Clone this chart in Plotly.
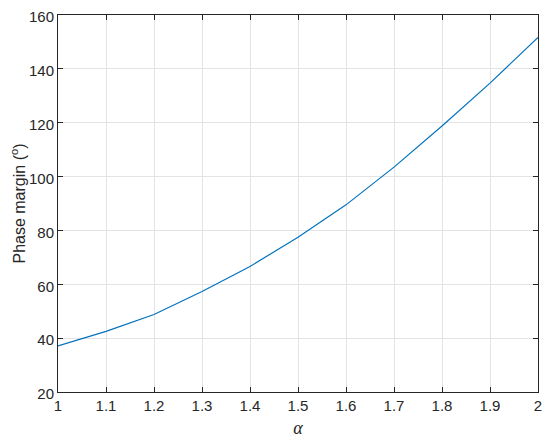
import plotly.graph_objects as go

# alpha values and the phase margin
alpha = [1.0, 1.1, 1.2, 1.3, 1.4, 1.5, 1.6, 1.7, 1.8, 1.9, 2.0]
phase_margin = [37.1, 42.5, 48.8, 57.3, 66.6, 77.5, 89.5, 103.5, 118.8, 134.7, 151.7]

x_ticks = [1.0, 1.1, 1.2, 1.3, 1.4, 1.5, 1.6, 1.7, 1.8, 1.9, 2.0]
x_tick_text = ["1", "1.1", "1.2", "1.3", "1.4", "1.5", "1.6", "1.7", "1.8", "1.9", "2"]
y_ticks = [20, 40, 60, 80, 100, 120, 140, 160]

_AXIS = dict(
    showline=True,
    linecolor="#262626",
    linewidth=1,
    mirror="ticks",
    ticks="inside",
    ticklen=5,
    tickcolor="#262626",
    showgrid=True,
    gridcolor="#e3e3e3",
    gridwidth=1,
    zeroline=False,
    automargin=False,
    ticklabeloverflow="allow",
    tickfont=dict(family="Arial, Liberation Sans, sans-serif", size=15, color="#262626"),
)

fig = go.Figure(
    go.Scatter(
        x=alpha,
        y=phase_margin,
        mode="lines",
        line=dict(color="#0072BD", width=1.2),
        showlegend=False,
    )
)

# page body adds an 8px offset, so the figure is a bit smaller than the window
fig.update_layout(
    width=542,
    height=435,
    margin=dict(l=50, r=12, t=7, b=51),
    paper_bgcolor="white",
    plot_bgcolor="white",
    xaxis=dict(
        range=[1, 2],
        tickvals=x_ticks,
        ticktext=x_tick_text,
        title=dict(
            text="<i>α</i>",
            font=dict(family="Times New Roman, Liberation Serif, serif", size=18, color="#262626"),
            standoff=8,
        ),
        **_AXIS,
    ),
    yaxis=dict(
        range=[20, 160],
        tickvals=y_ticks,
        ticklabelshift=2,
        title=dict(
            text="Phase margin (<sup>o</sup>)",
            font=dict(family="Arial, Liberation Sans, sans-serif", size=16, color="#262626"),
            standoff=6,
        ),
        **_AXIS,
    ),
)

fig.write_html("out.html")
